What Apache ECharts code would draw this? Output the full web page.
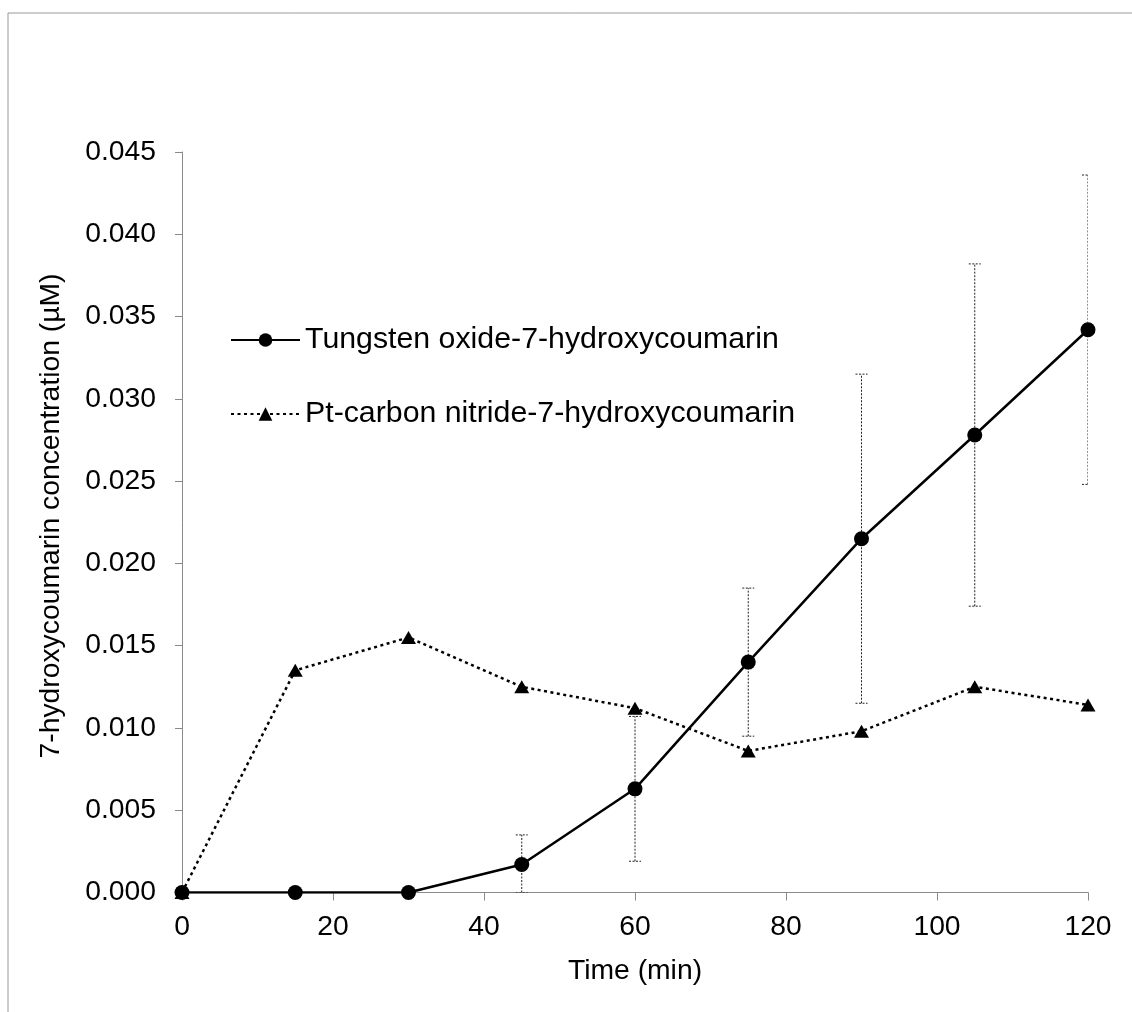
<!DOCTYPE html>
<html>
<head>
<meta charset="utf-8">
<script src="https://cdn.jsdelivr.net/npm/echarts@6/dist/echarts.min.js"></script>
<style>
  html, body { margin: 0; padding: 0; background: #fff; }
  #chart { width: 1132px; height: 1012px; }
</style>
</head>
<body>
<div id="chart"></div>
<script>
// ---- data ----
const times = [0, 15, 30, 45, 60, 75, 90, 105, 120];
const tungstenValues = [0, 0, 0, 0.0017, 0.0063, 0.0140, 0.0215, 0.0278, 0.0342];
const tungstenErrors = [0, 0, 0, 0.0018, 0.0044, 0.0045, 0.0100, 0.0104, 0.0094];
const ptValues = [0, 0.0135, 0.0155, 0.0125, 0.0112, 0.0086, 0.0098, 0.0125, 0.0114];
const seriesNames = ['Tungsten oxide-7-hydroxycoumarin', 'Pt-carbon nitride-7-hydroxycoumarin'];
const xTitle = 'Time (min)';
const yTitle = '7-hydroxycoumarin concentration (µM)';

const FONT = '"Liberation Sans", Arial, sans-serif';
const tungstenData = times.map((t, i) => [t, tungstenValues[i]]);
const ptData = times.map((t, i) => [t, ptValues[i]]);
const errData = times.map((t, i) => [t, tungstenValues[i] - tungstenErrors[i], tungstenValues[i] + tungstenErrors[i]])
  .filter((d, i) => tungstenErrors[i] > 0);

const chart = echarts.init(document.getElementById('chart'), null, { renderer: 'canvas' });
chart.setOption({
  animation: false,
  backgroundColor: '#fff',
  textStyle: { fontFamily: FONT },
  grid: { left: 182, top: 152, right: 44, bottom: 119.5, containLabel: false },
  graphic: [
    { type: 'rect', shape: { x: 8, y: 13, width: 1300, height: 1200 }, style: { fill: 'none', stroke: '#9a9a9a', lineWidth: 1 }, silent: true, z: -10 },
    { type: 'text', x: 51, y: 516, rotation: Math.PI / 2,
      style: { text: yTitle, font: '28.3px ' + FONT, fill: '#000', align: 'center', verticalAlign: 'middle' } },
    { type: 'text', x: 635, y: 971,
      style: { text: xTitle, font: '28.3px ' + FONT, fill: '#000', align: 'center', verticalAlign: 'middle' } }
  ],
  legend: {
    orient: 'vertical',
    left: 225,
    top: 319,
    itemWidth: 69,
    itemHeight: 17,
    itemGap: 42,
    data: seriesNames,
    textStyle: { fontSize: 30.3, color: '#000', fontFamily: FONT, lineHeight: 32 }
  },
  xAxis: {
    type: 'value', min: 0, max: 120, interval: 20,
    axisLine: { show: true, lineStyle: { color: '#8a8a8a', width: 1 } },
    axisTick: { show: true, inside: false, length: 8, lineStyle: { color: '#8a8a8a', width: 1 } },
    axisLabel: { fontSize: 28.3, color: '#000', margin: 21, fontFamily: FONT },
    splitLine: { show: false }
  },
  yAxis: {
    type: 'value', min: 0, max: 0.045, interval: 0.005,
    axisLine: { show: true, lineStyle: { color: '#8a8a8a', width: 1 } },
    axisTick: { show: true, inside: false, length: 7, lineStyle: { color: '#8a8a8a', width: 1 } },
    axisLabel: { fontSize: 28.3, color: '#000', margin: 26, fontFamily: FONT, formatter: v => v.toFixed(3) },
    splitLine: { show: false }
  },
  series: [
    {
      type: 'custom',
      name: 'errors',
      z: 1,
      clip: true,
      data: errData,
      renderItem: function (params, api) {
        const x = api.value(0);
        const lo = api.coord([x, Math.max(0, api.value(1))]);
        const hi = api.coord([x, api.value(2)]);
        const style = { stroke: '#222', lineWidth: 1, lineDash: [2, 1.5] };
        return {
          type: 'group',
          children: [
            { type: 'line', shape: { x1: lo[0], y1: lo[1], x2: hi[0], y2: hi[1] }, style: style },
            { type: 'line', shape: { x1: hi[0] - 6, y1: hi[1], x2: hi[0] + 6, y2: hi[1] }, style: style },
            { type: 'line', shape: { x1: lo[0] - 6, y1: lo[1], x2: lo[0] + 6, y2: lo[1] }, style: style }
          ]
        };
      }
    },
    {
      type: 'line',
      name: seriesNames[1],
      z: 2,
      data: ptData,
      symbol: 'triangle',
      symbolSize: [15, 13],
      itemStyle: { color: '#000' },
      lineStyle: { color: '#000', width: 2.5, type: [3, 3.5] }
    },
    {
      type: 'line',
      name: seriesNames[0],
      z: 3,
      data: tungstenData,
      symbol: 'circle',
      symbolSize: 15,
      itemStyle: { color: '#000' },
      lineStyle: { color: '#000', width: 2.5, type: 'solid' }
    }
  ]
});
</script>
</body>
</html>
